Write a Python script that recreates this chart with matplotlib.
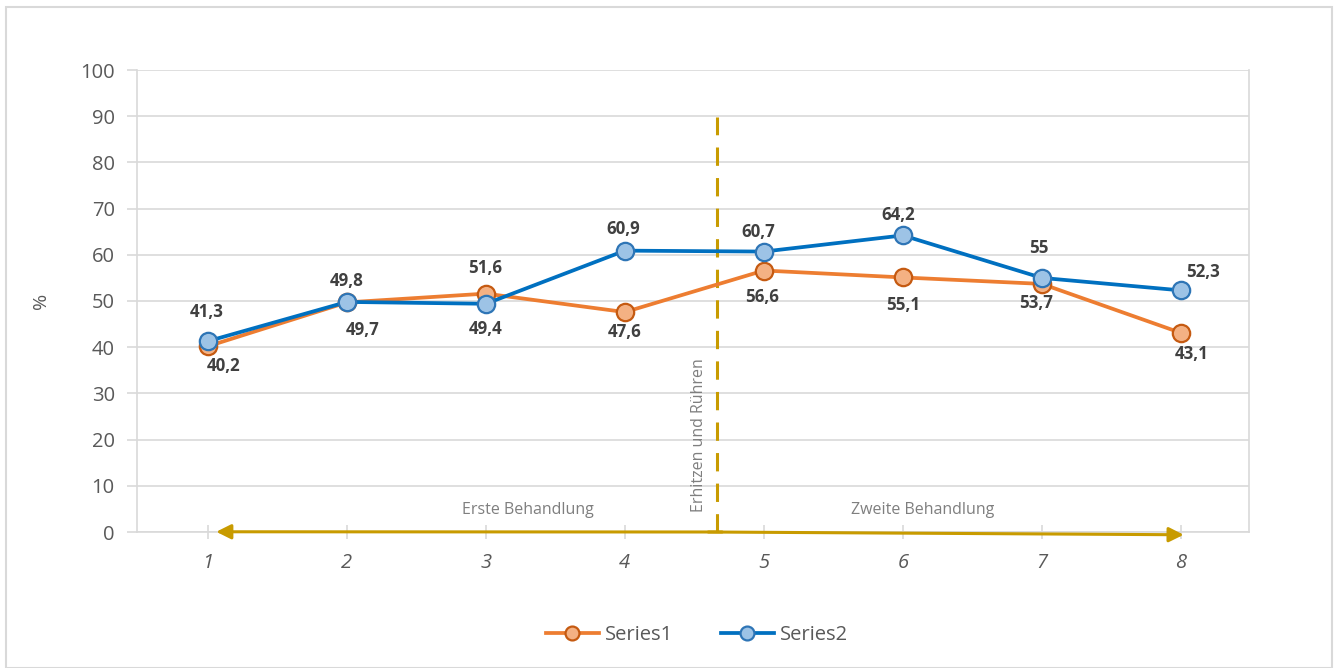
import matplotlib
matplotlib.use("Agg")
import matplotlib.pyplot as plt
from matplotlib.patches import Rectangle

plt.rcParams['font.family'] = ['Open Sans', 'DejaVu Sans']

categories = [1, 2, 3, 4, 5, 6, 7, 8]
series1 = [40.2, 49.7, 51.6, 47.6, 56.6, 55.1, 53.7, 43.1]
series2 = [41.3, 49.8, 49.4, 60.9, 60.7, 64.2, 55, 52.3]
y_ticks = [0, 10, 20, 30, 40, 50, 60, 70, 80, 90, 100]

# label offsets in pixels (dx, dy) relative to each point
off1 = [(16, -20), (16, -28), (-1, 26), (0, -20), (-2, -26), (0, -28), (-6, -19), (11, -21)]
off2 = [(-1, 29), (0, 21), (0, -25), (-2, 22), (-6, 20), (-5, 20), (-3, 30), (22, 18)]

fig = plt.figure(figsize=(13.39, 6.68), dpi=100)
ax = fig.add_axes([137 / 1339, 1 - 532 / 668, (1249 - 137) / 1339, (532 - 70) / 668])

grid_c = '#D9D9D9'
text_c = '#595959'
ax.set_xlim(0.49, 8.49)
ax.set_ylim(0, 100)
ax.set_yticks(y_ticks)
ax.set_xticks(categories)
ax.set_xticklabels([str(c) for c in categories], fontstyle='italic')
ax.yaxis.grid(True, color=grid_c, linewidth=1.2)
ax.set_axisbelow(True)
for s in ax.spines.values():
    s.set_color(grid_c)
    s.set_linewidth(1.2)
ax.spines['top'].set_visible(False)
ax.tick_params(axis='both', colors=grid_c, labelcolor=text_c, labelsize=14.5,
               direction='inout', length=10, width=1.2)
ax.tick_params(axis='y', direction='out', length=7, pad=9)
ax.tick_params(axis='x', pad=10)
ax.set_ylabel('%', color=text_c, fontsize=14)
ax.yaxis.set_label_coords((50 - 137) / 1112, 0.50)

c1_line, c1_face, c1_edge = '#ED7D31', '#F4B183', '#C55A11'
c2_line, c2_face, c2_edge = '#0070C0', '#9DC3E6', '#2E75B6'

ax.plot(categories, series1, color=c1_line, linewidth=2.7, marker='o', markersize=12.5,
        markerfacecolor=c1_face, markeredgecolor=c1_edge, markeredgewidth=1.6,
        label='Series1', zorder=3)
ax.plot(categories, series2, color=c2_line, linewidth=2.7, marker='o', markersize=12.5,
        markerfacecolor=c2_face, markeredgecolor=c2_edge, markeredgewidth=1.6,
        label='Series2', zorder=4)

lab_c = '#404040'
for x, v, (dx, dy) in zip(categories, series1, off1):
    ax.annotate(f"{v:g}".replace('.', ','), (x, v), xytext=(dx * 0.72, dy * 0.72),
                textcoords='offset points', ha='center', va='center',
                fontsize=12.2, fontweight='bold', color=lab_c, zorder=6)
for x, v, (dx, dy) in zip(categories, series2, off2):
    ax.annotate(f"{v:g}".replace('.', ','), (x, v), xytext=(dx * 0.72, dy * 0.72),
                textcoords='offset points', ha='center', va='center',
                fontsize=12.2, fontweight='bold', color=lab_c, zorder=6)

gold = '#C89B00'
# treatment boundary and timeline arrow
ax.plot([4.66, 4.66], [0, 89.8], color=gold, linewidth=2.2, linestyle=(0, (6, 4)),
        zorder=2, clip_on=False)
ax.annotate('', xy=(1.06, 0.05), xytext=(4.7, 0.0),
            arrowprops=dict(arrowstyle='-|>', color=gold, lw=2.2, mutation_scale=22,
                            shrinkA=0, shrinkB=0), zorder=5, annotation_clip=False)
ax.annotate('', xy=(8.02, -0.6), xytext=(4.6, 0.0),
            arrowprops=dict(arrowstyle='-|>', color=gold, lw=2.2, mutation_scale=22,
                            shrinkA=0, shrinkB=0), zorder=5, annotation_clip=False)

note_c = '#7F7F7F'
ax.text(3.3, 4.8, 'Erste Behandlung', ha='center', va='center', fontsize=11.5, color=note_c)
ax.text(6.14, 4.8, 'Zweite Behandlung', ha='center', va='center', fontsize=11.5, color=note_c)
ax.text(4.53, 21, 'Erhitzen und Rühren', ha='center', va='center', fontsize=11.5,
        color=note_c, rotation=90)

leg = fig.legend(loc='center', bbox_to_anchor=(697 / 1339, 1 - 635 / 668), ncol=2,
                 frameon=False, fontsize=14.5, handlelength=2.6, columnspacing=2.4,
                 handletextpad=0.3, markerscale=0.8)
for t in leg.get_texts():
    t.set_color(text_c)

fig.patches.append(Rectangle((5.5 / 1339, 0.5 / 668), 1326 / 1339, 661 / 668,
                             transform=fig.transFigure, fill=False,
                             edgecolor='#D9D9D9', linewidth=1.5))

fig.savefig('out.png', dpi=100, facecolor='white')
